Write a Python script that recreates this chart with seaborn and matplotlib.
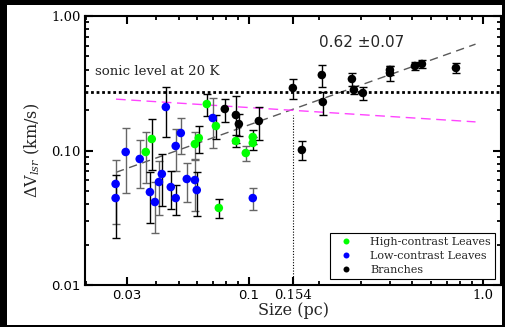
import numpy as np
import pandas as pd
import matplotlib
matplotlib.use("Agg")
import matplotlib.pyplot as plt
import seaborn as sns
from matplotlib.patches import Rectangle
from matplotlib.ticker import LogLocator, NullFormatter, FixedLocator, FixedFormatter

# ---- data: size (pc), line width dV_lsr (km/s) and its 1-sigma error ----
hc_size = [0.0362, 0.0384, 0.0587, 0.0610, 0.0660, 0.0722, 0.0743, 0.0879, 0.0969, 0.1038, 0.1038]
hc_dv   = [0.0975, 0.1218, 0.1117, 0.1239, 0.2216, 0.1521, 0.0374, 0.1177, 0.0958, 0.1260, 0.1137]
hc_err  = [0.040, 0.050, 0.025, 0.028, 0.040, 0.030, 0.006, 0.012, 0.012, 0.015, 0.012]
hc_dark = [0, 1, 0, 1, 1, 1, 1, 1, 0, 1, 1]

lc_size = [0.0269, 0.0269, 0.0297, 0.0341, 0.0377, 0.0396, 0.0412, 0.0424, 0.0441,
           0.0463, 0.0486, 0.0486, 0.0511, 0.0542, 0.0587, 0.0598, 0.0700, 0.1038]
lc_dv   = [0.0564, 0.0443, 0.0975, 0.0865, 0.0491, 0.0414, 0.0583, 0.0669, 0.2106,
           0.0535, 0.1080, 0.0443, 0.1349, 0.0614, 0.0603, 0.0508, 0.1744, 0.0443]
lc_err  = [0.028, 0.022, 0.049, 0.034, 0.020, 0.017, 0.025, 0.028, 0.085,
           0.017, 0.037, 0.011, 0.040, 0.020, 0.025, 0.018, 0.070, 0.008]
lc_dark = [0, 1, 0, 0, 1, 0, 0, 1, 1, 1, 0, 1, 0, 0, 0, 1, 0, 0]

br_size = [0.0788, 0.0879, 0.0905, 0.1102, 0.154, 0.1683, 0.2048, 0.2069,
           0.2754, 0.2809, 0.3068, 0.4004, 0.4004, 0.5121, 0.5487, 0.7669]
br_dv   = [0.2035, 0.1836, 0.1574, 0.1657, 0.2915, 0.1009, 0.3641, 0.2294,
           0.3401, 0.2818, 0.2677, 0.3968, 0.3770, 0.4248, 0.4396, 0.4107]
br_err  = [0.040, 0.070, 0.030, 0.046, 0.050, 0.016, 0.065, 0.045,
           0.040, 0.020, 0.030, 0.030, 0.050, 0.029, 0.028, 0.035]
br_dark = [1] * len(br_size)

labels = ["High-contrast Leaves", "Low-contrast Leaves", "Branches"]
colors = ["#00ff00", "#0000ff", "#000000"]

# power-law fit to the branches and the thermal/turbulent reference line
fit_slope, fit_slope_err, fit_amp = 0.62, 0.07, 0.646
ref_slope, ref_amp = -0.11, 0.1619
fit_range = [0.027, 0.93]
sonic_level = 0.27
crossing_size = 0.154
x_ticks = [0.03, 0.1, 0.154, 1.0]
x_ticklabels = ["0.03", "0.1", "0.154", "1.0"]
y_ticks = [0.01, 0.1, 1.0]
y_ticklabels = ["0.01", "0.10", "1.00"]
sans_labels = {"0.03", "0.1", "0.01"}

df = pd.DataFrame({
    "size": hc_size + lc_size + br_size,
    "dv": hc_dv + lc_dv + br_dv,
    "err": hc_err + lc_err + br_err,
    "dark": hc_dark + lc_dark + br_dark,
    "kind": [labels[0]] * len(hc_size) + [labels[1]] * len(lc_size) + [labels[2]] * len(br_size),
})

sns.set_theme(style="ticks")
plt.rcParams["font.family"] = ["DejaVu Serif"]
plt.rcParams["mathtext.fontset"] = "dejavuserif"

W, H = 506, 327
fig = plt.figure(figsize=(W / 100, H / 100), dpi=100, facecolor="black")
fig.patches.append(Rectangle((7 / W, 2 / H), 495 / W, 320 / H, transform=fig.transFigure,
                             facecolor="white", edgecolor="none", zorder=-10))
ax = fig.add_axes([85 / W, 42 / H, 416 / W, 269 / H])
ax.set_facecolor("white")

# error bars (alternating dark / grey shades)
for dark, shade in [(0, "0.4"), (1, "black")]:
    sub = df[df["dark"] == dark]
    ax.errorbar(sub["size"], sub["dv"], yerr=sub["err"], fmt="none", ecolor=shade,
                elinewidth=1.0, capsize=3, capthick=1.0, zorder=2)

sns.scatterplot(data=df, x="size", y="dv", hue="kind", hue_order=labels,
                palette=dict(zip(labels, colors)), s=38, linewidth=0, ax=ax, zorder=3,
                legend=True)

# reference lines
xs = np.array(fit_range)
ax.plot(xs, fit_amp * xs ** fit_slope, color="0.35", lw=1.0, dashes=(6, 4), zorder=1)
ax.plot(xs, ref_amp * xs ** ref_slope, color="#ff44ff", lw=1.0, dashes=(7, 4), zorder=1)
ax.axhline(sonic_level, color="black", lw=2.0, ls=(0, (1, 1)), zorder=1)
ax.plot([crossing_size, crossing_size], [0.01, ref_amp * crossing_size ** ref_slope * 0.93],
        color="black", lw=0.8, ls=(0, (1, 1.5)), zorder=1)

ax.text(0.0219, 0.39, "sonic level at 20 K", ha="left", va="center", fontsize=9.6)
ax.text(0.304, 0.64, f"{fit_slope:.2f} \u00b1{fit_slope_err:.2f}", ha="center", va="center",
        fontsize=11, family="DejaVu Sans", color="0.15")

ax.set_xscale("log")
ax.set_yscale("log")
ax.set_xlim(0.0199, 1.195)
ax.set_ylim(0.01, 1.0)

ax.xaxis.set_major_locator(FixedLocator(x_ticks))
ax.xaxis.set_major_formatter(FixedFormatter(x_ticklabels))
ax.xaxis.set_minor_locator(LogLocator(base=10, subs=np.arange(2, 10)))
ax.xaxis.set_minor_formatter(NullFormatter())
ax.yaxis.set_major_locator(FixedLocator(y_ticks))
ax.yaxis.set_major_formatter(FixedFormatter(y_ticklabels))
ax.yaxis.set_minor_locator(LogLocator(base=10, subs=np.arange(2, 10)))
ax.yaxis.set_minor_formatter(NullFormatter())

ax.tick_params(which="both", direction="in", top=True, right=True, colors="black",
               labelsize=9.5, pad=3)
ax.tick_params(which="major", length=5.5, width=1.5)
ax.tick_params(which="minor", length=3, width=1.3)
for sp in ax.spines.values():
    sp.set_linewidth(1.5)
    sp.set_color("black")

fig.canvas.draw()
for lab in ax.get_xticklabels() + ax.get_yticklabels():
    if lab.get_text() in sans_labels:
        lab.set_family("DejaVu Sans")

ax.set_xlabel("Size (pc)", fontsize=11.5, labelpad=0)
ax.set_ylabel(r"$\Delta\mathrm{V}_{lsr}$ (km/s)", fontsize=11.5, labelpad=7)

leg = ax.legend(loc="lower right", fontsize=8, frameon=True, fancybox=False,
                edgecolor="black", framealpha=1, borderaxespad=0.5, handletextpad=1.2,
                labelspacing=0.35, markerscale=0.7, borderpad=0.4)
leg.get_frame().set_linewidth(0.8)

fig.savefig("out.png", dpi=100, facecolor=fig.get_facecolor())
